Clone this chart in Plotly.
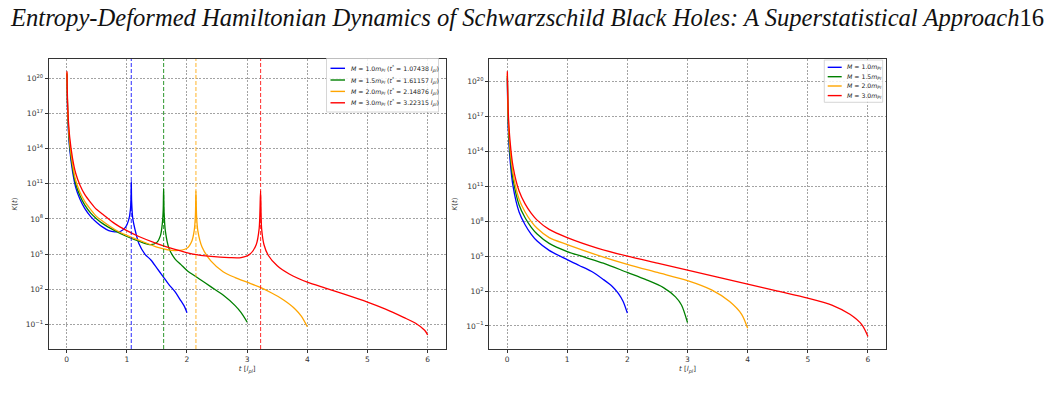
import plotly.graph_objects as go

# ---------------- data ----------------
masses = ["1.0", "1.5", "2.0", "3.0"]
t_star = [1.07438, 1.61157, 2.14876, 3.22315]
colors = ["blue", "green", "orange", "red"]

# Left panel: K(t) with singular peak at t*, values as log10 K
left_t_blue = [0.005, 0.02, 0.05, 0.1, 0.15, 0.22, 0.3, 0.4, 0.5, 0.6, 0.7, 0.8, 0.9, 0.98, 1.03, 1.06, 1.07, 1.07438,
               1.08, 1.1, 1.15, 1.2, 1.3, 1.4, 1.5, 1.6, 1.7, 1.8, 1.9, 1.95, 2.0]
left_L_blue = [20.3, 16.5, 14.0, 12.0, 10.7, 9.7, 8.9, 8.2, 7.7, 7.3, 7.0, 6.9, 6.95, 7.3, 7.9, 8.8, 10.0, 11.2,
               9.5, 8.0, 6.8, 5.9, 5.0, 4.5, 3.8, 3.1, 2.4, 1.8, 1.0, 0.6, 0.0]
left_t_green = [0.005, 0.02, 0.05, 0.1, 0.15, 0.22, 0.3, 0.4, 0.5, 0.6, 0.8, 1.0, 1.2, 1.4, 1.5, 1.56, 1.59, 1.605, 1.61157,
                1.62, 1.64, 1.7, 1.8, 1.9, 2.0, 2.2, 2.4, 2.6, 2.8, 2.9, 3.0]
left_L_green = [20.4, 16.8, 14.3, 12.3, 11.0, 10.0, 9.2, 8.5, 8.0, 7.6, 7.0, 6.5, 6.1, 5.8, 6.0, 6.6, 7.6, 8.8, 10.6,
                8.5, 7.0, 5.5, 4.6, 4.1, 3.6, 2.9, 2.2, 1.5, 0.6, 0.0, -0.8]
left_t_orange = [0.005, 0.02, 0.05, 0.1, 0.15, 0.22, 0.3, 0.4, 0.5, 0.6, 0.8, 1.0, 1.2, 1.5, 1.8, 2.0, 2.08, 2.12, 2.14, 2.14876,
                 2.16, 2.18, 2.25, 2.4, 2.6, 2.8, 3.0, 3.2, 3.4, 3.6, 3.8, 3.9, 4.0]
left_L_orange = [20.5, 17.0, 14.6, 12.6, 11.3, 10.3, 9.5, 8.8, 8.2, 7.8, 7.1, 6.6, 6.2, 5.6, 5.3, 5.5, 6.1, 7.0, 8.3, 10.4,
                 8.2, 7.0, 5.6, 4.4, 3.5, 3.0, 2.6, 2.2, 1.7, 1.1, 0.3, -0.3, -1.2]
left_t_red = [0.005, 0.02, 0.05, 0.1, 0.15, 0.22, 0.3, 0.4, 0.5, 0.6, 0.8, 1.0, 1.2, 1.5, 1.8, 2.1, 2.4, 2.7, 2.9, 3.05,
              3.15, 3.2, 3.22315, 3.24, 3.28, 3.35, 3.5, 3.7, 4.0, 4.3, 4.6, 5.0, 5.3, 5.6, 5.8, 5.95, 6.0]
left_L_red = [20.6, 17.3, 15.0, 13.1, 11.9, 10.9, 10.1, 9.4, 8.8, 8.4, 7.6, 7.0, 6.5, 5.9, 5.4, 5.0, 4.8, 4.7, 4.7, 5.0,
              5.8, 7.2, 10.4, 7.2, 5.8, 4.9, 4.0, 3.3, 2.6, 2.1, 1.6, 0.9, 0.3, -0.4, -0.9, -1.5, -1.9]

# Right panel: K(t) without singularity, values as log10 K
right_t_blue = [0.005, 0.02, 0.05, 0.1, 0.2, 0.3, 0.4, 0.5, 0.7, 1.0, 1.2, 1.4, 1.6, 1.75, 1.85, 1.93, 2.0]
right_L_blue = [20.3, 16.0, 13.3, 11.0, 8.8, 7.7, 6.9, 6.3, 5.5, 4.7, 4.2, 3.7, 3.0, 2.4, 1.8, 1.1, 0.1]
right_t_green = [0.005, 0.02, 0.05, 0.1, 0.2, 0.3, 0.4, 0.5, 0.7, 1.0, 1.3, 1.6, 2.0, 2.3, 2.6, 2.8, 2.9, 3.0]
right_L_green = [20.5, 16.5, 13.8, 11.6, 9.4, 8.3, 7.5, 6.9, 6.1, 5.4, 4.9, 4.4, 3.6, 3.0, 2.3, 1.5, 0.8, -0.7]
right_t_orange = [0.005, 0.02, 0.05, 0.1, 0.2, 0.3, 0.4, 0.5, 0.7, 1.0, 1.5, 2.0, 2.5, 3.0, 3.4, 3.7, 3.9, 4.0]
right_L_orange = [20.7, 16.9, 14.3, 12.1, 9.9, 8.8, 8.0, 7.4, 6.6, 6.0, 5.1, 4.3, 3.6, 2.9, 2.1, 1.1, 0.0, -1.2]
right_t_red = [0.005, 0.02, 0.05, 0.1, 0.2, 0.3, 0.4, 0.5, 0.7, 1.0, 1.5, 2.0, 2.5, 3.0, 3.5, 4.0, 4.5, 5.0, 5.4, 5.7, 5.9, 6.0]
right_L_red = [20.9, 17.4, 14.9, 12.7, 10.6, 9.5, 8.7, 8.1, 7.3, 6.6, 5.7, 5.0, 4.4, 3.8, 3.2, 2.6, 2.0, 1.4, 0.8, 0.0, -0.9, -1.9]

x_ticks = [0, 1, 2, 3, 4, 5, 6]
y_tick_exp = [-1, 2, 5, 8, 11, 14, 17, 20]

# ---------------- figure ----------------
W, H = 1050, 416
left_data = [(left_t_blue, left_L_blue), (left_t_green, left_L_green),
             (left_t_orange, left_L_orange), (left_t_red, left_L_red)]
right_data = [(right_t_blue, right_L_blue), (right_t_green, right_L_green),
              (right_t_orange, right_L_orange), (right_t_red, right_L_red)]

fig = go.Figure()

for i, (tt, LL) in enumerate(left_data):
    fig.add_trace(go.Scatter(x=tt, y=[10 ** v for v in LL], mode="lines", showlegend=False,
                             line=dict(color=colors[i], width=1.3, shape="spline", smoothing=0.8),
                             xaxis="x", yaxis="y"))

for i, ts in enumerate(t_star):
    fig.add_shape(type="line", x0=ts, x1=ts, xref="x", y0=0, y1=1, yref="y domain",
                  line=dict(color=colors[i], width=1.1, dash="4px,2px"), opacity=0.75, layer="above")

for i, (tt, LL) in enumerate(right_data):
    fig.add_trace(go.Scatter(x=tt, y=[10 ** v for v in LL], mode="lines", showlegend=False,
                             line=dict(color=colors[i], width=1.3, shape="spline", smoothing=0.8),
                             xaxis="x2", yaxis="y2"))

tick_font = dict(family="DejaVu Sans", size=7.5, color="#333")
ytext = [f"10<sup>{'−1' if e == -1 else e}</sup>" for e in y_tick_exp]
yvals = [10.0 ** e for e in y_tick_exp]

grid = dict(showgrid=True, gridcolor="rgba(140,140,140,0.8)", griddash="2px,1.5px", gridwidth=0.6)
common_x = dict(range=[-0.3, 6.3], tickvals=x_ticks, ticktext=[str(v) for v in x_ticks],
                showline=True, mirror=True, linecolor="#333", linewidth=1,
                ticks="outside", ticklen=3, tickcolor="#333", tickfont=tick_font,
                zeroline=False, **grid,
                title=dict(text="<i>t</i> [<i>l</i><sub><i>pl</i></sub>]",
                           font=dict(family="DejaVu Sans", size=7, color="#333"), standoff=3))
common_y = dict(type="log", tickvals=yvals, ticktext=ytext,
                showline=True, mirror=True, linecolor="#333", linewidth=1,
                ticks="outside", ticklen=3, tickcolor="#333", tickfont=tick_font,
                zeroline=False, **grid,
                title=dict(text="<i>K</i>(<i>t</i>)",
                           font=dict(family="DejaVu Sans", size=7, color="#333"), standoff=7))

y_dom = [(H - 349) / H, (H - 59) / H]

fig.update_layout(
    width=W, height=H, margin=dict(l=0, r=0, t=0, b=0),
    paper_bgcolor="white", plot_bgcolor="white", showlegend=False,
    xaxis=dict(common_x, domain=[48.6 / W, 445.7 / W], anchor="y"),
    yaxis=dict(common_y, domain=y_dom, anchor="x", range=[-3.1, 21.65]),
    xaxis2=dict(common_x, domain=[489 / W, 886 / W], anchor="y2"),
    yaxis2=dict(common_y, domain=y_dom, anchor="x2", range=[-2.98, 21.95]),
)


def px(x):
    return x / W


def py(y):
    return 1 - y / H


# hand-built legends (matplotlib style, compact spacing)
legend_specs = [
    dict(box=(326.5, 58.5, 438.5, 112), rows=[68.3, 80.0, 91.4, 102.8], line=(330.5, 345), text_x=348.5,
         labels=[f"<i>M</i> = {masses[i]}<i>m</i><sub><i>Pl</i></sub> "
                 f"(<i>t</i><sup>*</sup> = {t_star[i]:.5f} <i>l</i><sub><i>pl</i></sub>)" for i in range(4)],
         size=6.2),
    dict(box=(824.3, 60.0, 882.7, 102.3), rows=[67.3, 76.7, 86.0, 95.6], line=(827.7, 841.7), text_x=845,
         labels=[f"<i>M</i> = {masses[i]}<i>m</i><sub><i>Pl</i></sub>" for i in range(4)],
         size=6.2),
]
for spec in legend_specs:
    x0, y0, x1, y1 = spec["box"]
    fig.add_shape(type="rect", xref="paper", yref="paper", x0=px(x0), x1=px(x1), y0=py(y1), y1=py(y0),
                  line=dict(color="#cccccc", width=0.8), fillcolor="rgba(255,255,255,0.85)", layer="above")
    for i, yy in enumerate(spec["rows"]):
        fig.add_shape(type="line", xref="paper", yref="paper", x0=px(spec["line"][0]), x1=px(spec["line"][1]),
                      y0=py(yy), y1=py(yy), line=dict(color=colors[i], width=1.4), layer="above")
        fig.add_annotation(text=spec["labels"][i], x=px(spec["text_x"]), y=py(yy), xref="paper", yref="paper",
                           xanchor="left", yanchor="middle", showarrow=False,
                           font=dict(family="DejaVu Sans", size=spec["size"], color="#222"))

fig.add_annotation(
    text="<i>Entropy-Deformed Hamiltonian Dynamics of Schwarzschild Black Holes: A Superstatistical Approach</i>16",
    x=1046 / W, y=1 - 18 / H, xref="paper", yref="paper", xanchor="right", yanchor="middle",
    showarrow=False, font=dict(family="Liberation Serif", size=24.6, color="#111"))

fig.write_html("out.html")
